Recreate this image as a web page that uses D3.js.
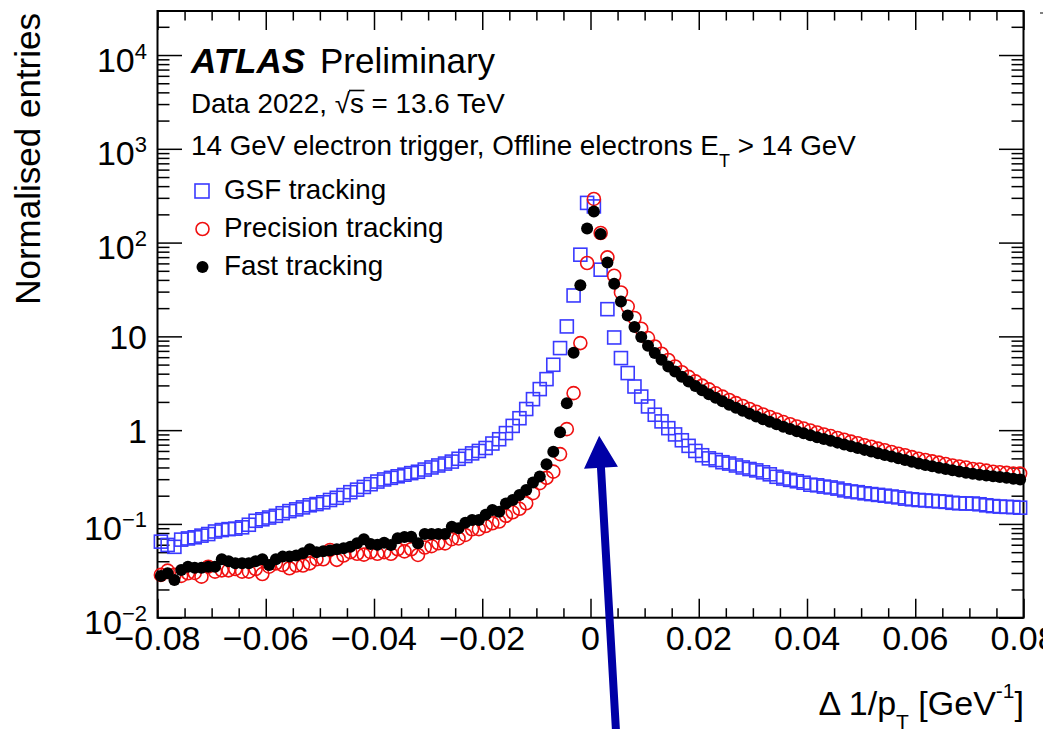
<!DOCTYPE html>
<html>
<head>
<meta charset="utf-8">
<script src="https://cdn.jsdelivr.net/npm/d3@7"></script>
<style>
  html, body { margin: 0; padding: 0; background: #fff; overflow: hidden; }
  svg { display: block; font-family: "Liberation Sans", Arial, Helvetica, sans-serif; }
</style>
</head>
<body>
<svg id="chart" width="1043" height="729"></svg>
<script>
// Histogram binning: 128 bins of width 0.00125 GeV^-1 from -0.08 to 0.08
const binLow = -0.08;
const binWidth = 0.00125;

// Normalised entries per bin
const gsf = [
  0.0647,0.0597,0.057,0.068,0.070,0.072,0.075,0.078,0.083,0.086,
  0.088,0.089,0.092,0.098,0.108,0.112,0.117,0.122,0.130,0.137,
  0.143,0.150,0.158,0.163,0.170,0.180,0.190,0.203,0.218,0.232,
  0.248,0.265,0.283,0.298,0.310,0.322,0.335,0.348,0.360,0.380,
  0.400,0.420,0.440,0.462,0.495,0.530,0.565,0.600,0.645,0.720,
  0.800,0.930,1.11,1.34,1.68,2.14,2.74,3.5,4.98,7.5,
  12.76,27.3,74.3,265,243,51.4,19.5,9.73,5.87,4.06,
  2.92,2.28,1.79,1.46,1.24,1.05,0.90,0.78,0.68,0.60,
  0.54,0.50,0.48,0.455,0.44,0.42,0.40,0.385,0.372,0.355,
  0.338,0.318,0.305,0.295,0.285,0.275,0.262,0.258,0.250,0.245,
  0.238,0.228,0.222,0.218,0.212,0.208,0.204,0.200,0.196,0.192,
  0.186,0.183,0.180,0.178,0.176,0.174,0.172,0.168,0.166,0.165,
  0.165,0.162,0.158,0.155,0.153,0.152,0.151,0.149
];
const precision = [
  0.0286,0.0318,0.0286,0.0279,0.0298,0.030,0.0274,0.035,0.031,0.032,
  0.032,0.033,0.031,0.031,0.033,0.0292,0.035,0.038,0.0365,0.0337,
  0.036,0.036,0.038,0.042,0.042,0.0528,0.0414,0.046,0.050,0.048,
  0.047,0.050,0.048,0.050,0.048,0.0537,0.051,0.0537,0.0467,0.056,
  0.058,0.0622,0.062,0.0687,0.070,0.0763,0.0877,0.088,0.095,0.1016,
  0.106,0.122,0.133,0.145,0.166,0.213,0.272,0.31,0.361,0.555,
  1.025,2.48,8.48,60.6,292,126.6,69.5,44.3,29.4,20.8,
  15.7,12.05,9.59,7.8,6.52,5.6,4.77,4.15,3.70,3.31,
  2.98,2.72,2.47,2.28,2.10,1.94,1.81,1.68,1.57,1.47,
  1.38,1.30,1.22,1.155,1.095,1.04,0.99,0.945,0.90,0.865,
  0.825,0.79,0.755,0.725,0.69,0.665,0.635,0.61,0.585,0.56,
  0.54,0.515,0.495,0.48,0.465,0.45,0.435,0.42,0.41,0.40,
  0.385,0.38,0.37,0.36,0.355,0.35,0.345,0.345
];
const fast = [
  0.0279,0.0298,0.0253,0.0323,0.035,0.034,0.034,0.035,0.035,0.042,
  0.040,0.038,0.038,0.038,0.040,0.042,0.0365,0.042,0.0448,0.045,
  0.046,0.0486,0.0537,0.050,0.051,0.052,0.0537,0.055,0.057,0.0622,
  0.0687,0.061,0.060,0.063,0.0597,0.0703,0.0726,0.073,0.0622,0.078,
  0.078,0.078,0.078,0.0935,0.090,0.103,0.110,0.110,0.125,0.141,
  0.135,0.165,0.18,0.204,0.23,0.276,0.32,0.434,0.59,0.952,
  1.94,6.7,35,141,215,123.5,61.5,36.4,23.6,16.7,
  12.6,9.83,7.94,6.63,5.63,4.77,4.22,3.715,3.30,2.955,
  2.666,2.42,2.21,2.03,1.87,1.734,1.61,1.50,1.40,1.31,
  1.23,1.156,1.09,1.03,0.976,0.927,0.882,0.842,0.804,0.769,
  0.736,0.704,0.673,0.644,0.616,0.591,0.567,0.544,0.522,0.50,
  0.48,0.46,0.441,0.426,0.412,0.398,0.385,0.373,0.362,0.352,
  0.342,0.335,0.329,0.322,0.316,0.31,0.304,0.298
];

// Axis ticks and labels
const xMajorTicks = [-0.08, -0.06, -0.04, -0.02, 0, 0.02, 0.04, 0.06, 0.08];
const xTickLabels = ["\u22120.08", "\u22120.06", "\u22120.04", "\u22120.02", "0", "0.02", "0.04", "0.06", "0.08"];
const yMajorTicks = [0.01, 0.1, 1, 10, 100, 1000, 10000];
const yTickBase = ["10", "10", "1", "10", "10", "10", "10"];
const yTickExp = ["\u22122", "\u22121", "", "", "2", "3", "4"];

// Legend entries and annotation
const legendNames = ["GSF tracking", "Precision tracking", "Fast tracking"];
const arrowTip = [0.0016, 0.87];
const arrowTail = [0.0048, 0.0005];

const svg = d3.select("#chart");
const L = 157.5, R = 1023.5, T = 11, B = 617.7;
const yMax = 29480;

const x = d3.scaleLinear().domain([-0.08, 0.08]).range([L, R]);
const y = d3.scaleLog().domain([0.01, yMax]).range([B, T]);

const centre = i => binLow + (i + 0.5) * binWidth;

// ---- ticks on all four sides (drawn inward) ----
const xMinorTicks = x.ticks(32).filter(v => !xMajorTicks.some(m => Math.abs(m - v) < 1e-9));
const yMinorTicks = [];
yMajorTicks.forEach(d => { for (let k = 2; k <= 9; k++) { const v = d * k; if (v < yMax) yMinorTicks.push(v); } });

function styleAxis(g) {
  g.select(".domain").remove();
  g.selectAll(".tick line").attr("stroke", "#000").attr("stroke-width", 1.5);
  g.selectAll(".tick text").remove();
}
const ax = svg.append("g").attr("class", "axes");
ax.append("g").attr("transform", `translate(0,${B})`)
  .call(d3.axisBottom(x).tickValues(xMajorTicks).tickSize(-19).tickFormat("")).call(styleAxis);
ax.append("g").attr("transform", `translate(0,${B})`)
  .call(d3.axisBottom(x).tickValues(xMinorTicks).tickSize(-9.5).tickFormat("")).call(styleAxis);
ax.append("g").attr("transform", `translate(0,${T})`)
  .call(d3.axisTop(x).tickValues(xMajorTicks).tickSize(-19).tickFormat("")).call(styleAxis);
ax.append("g").attr("transform", `translate(0,${T})`)
  .call(d3.axisTop(x).tickValues(xMinorTicks).tickSize(-9.5).tickFormat("")).call(styleAxis);
ax.append("g").attr("transform", `translate(${L},0)`)
  .call(d3.axisLeft(y).tickValues(yMajorTicks).tickSize(-24.5).tickFormat("")).call(styleAxis);
ax.append("g").attr("transform", `translate(${L},0)`)
  .call(d3.axisLeft(y).tickValues(yMinorTicks).tickSize(-12).tickFormat("")).call(styleAxis);
ax.append("g").attr("transform", `translate(${R},0)`)
  .call(d3.axisRight(y).tickValues(yMajorTicks).tickSize(-24.5).tickFormat("")).call(styleAxis);
ax.append("g").attr("transform", `translate(${R},0)`)
  .call(d3.axisRight(y).tickValues(yMinorTicks).tickSize(-12).tickFormat("")).call(styleAxis);

// frame
svg.append("rect").attr("x", L).attr("y", T).attr("width", R - L).attr("height", B - T)
  .attr("fill", "none").attr("stroke", "#000").attr("stroke-width", 2);

// x tick labels
svg.append("g").selectAll("text").data(xMajorTicks).join("text")
  .attr("x", d => x(d)).attr("y", 650).attr("text-anchor", "middle")
  .attr("font-size", 34).attr("fill", "#000")
  .text((d, i) => xTickLabels[i]);

// y tick labels (powers of ten)
const yl = svg.append("g").selectAll("text").data(yMajorTicks).join("text")
  .attr("x", 147).attr("text-anchor", "end").attr("font-size", 34).attr("fill", "#000")
  .attr("y", (d, i) => y(d) + (yTickExp[i] ? 16.5 : 12.5));
yl.append("tspan").text((d, i) => yTickBase[i]);
yl.filter((d, i) => yTickExp[i] !== "").append("tspan")
  .attr("font-size", 22).attr("dy", -13)
  .text(d => yTickExp[yMajorTicks.indexOf(d)]);

// axis titles
svg.append("text").attr("transform", `translate(40,13) rotate(-90)`)
  .attr("text-anchor", "end").attr("font-size", 35).attr("fill", "#000")
  .text("Normalised entries");

const xt = svg.append("text").attr("x", 1024).attr("y", 715).attr("text-anchor", "end")
  .attr("font-size", 34).attr("fill", "#000");
xt.append("tspan").text("\u0394 1/p");
xt.append("tspan").attr("font-size", 21).attr("dy", 14).text("T");
xt.append("tspan").attr("dy", -14).text(" [GeV");
xt.append("tspan").attr("font-size", 21).attr("dy", -17).text("-1");
xt.append("tspan").attr("dy", 17).text("]");

// ---- data markers ----
const plot = svg.append("g");
const idx = d3.range(gsf.length);
const sq = 13;
plot.append("g").selectAll("rect").data(idx).join("rect")
  .attr("x", i => x(centre(i)) - sq / 2).attr("y", i => y(gsf[i]) - sq / 2)
  .attr("width", sq).attr("height", sq)
  .attr("fill", "none").attr("stroke", "#3a3aff").attr("stroke-width", 1.6);
plot.append("g").selectAll("circle").data(idx).join("circle")
  .attr("cx", i => x(centre(i))).attr("cy", i => y(precision[i])).attr("r", 6.5)
  .attr("fill", "none").attr("stroke", "#f01010").attr("stroke-width", 1.6);
plot.append("g").selectAll("circle").data(idx).join("circle")
  .attr("cx", i => x(centre(i))).attr("cy", i => y(fast[i])).attr("r", 6)
  .attr("fill", "#000");

// ---- labels inside the frame ----
svg.append("text").attr("x", 191).attr("y", 73).attr("font-size", 35)
  .attr("font-weight", "bold").attr("font-style", "italic").attr("fill", "#000").text("ATLAS");
svg.append("text").attr("x", 320).attr("y", 73).attr("font-size", 35).attr("fill", "#000").text("Preliminary");

const dataLine = svg.append("text").attr("x", 191).attr("y", 113).attr("font-size", 27.8).attr("fill", "#000")
  .text("Data 2022, \u221As = 13.6 TeV");
{
  const node = dataLine.node();
  const sIdx = "Data 2022, \u221As".length - 1;
  const x0 = node.getStartPositionOfChar(sIdx).x;
  const x1 = node.getEndPositionOfChar(sIdx).x;
  svg.append("line").attr("x1", x0 - 1).attr("x2", x1 + 0.5).attr("y1", 90.5).attr("y2", 90.5)
    .attr("stroke", "#000").attr("stroke-width", 1.6);
}

const trig = svg.append("text").attr("x", 191).attr("y", 155).attr("font-size", 27.8).attr("fill", "#000");
trig.append("tspan").text("14 GeV electron trigger, Offline electrons E");
trig.append("tspan").attr("font-size", 18).attr("dy", 12).text("T");
trig.append("tspan").attr("dy", -12).text(" > 14 GeV");

// legend
const legY = [191, 229, 267];
const lg = svg.append("g");
lg.append("rect").attr("x", 202 - 7).attr("y", legY[0] - 7).attr("width", 14).attr("height", 14)
  .attr("fill", "none").attr("stroke", "#3a3aff").attr("stroke-width", 1.6);
lg.append("circle").attr("cx", 202.5).attr("cy", legY[1]).attr("r", 6.5)
  .attr("fill", "none").attr("stroke", "#f01010").attr("stroke-width", 1.6);
lg.append("circle").attr("cx", 202.5).attr("cy", legY[2]).attr("r", 6).attr("fill", "#000");
lg.selectAll("text").data(legendNames).join("text")
  .attr("x", 224).attr("y", (d, i) => legY[i] + 8).attr("font-size", 27.8).attr("fill", "#000")
  .text(d => d);

// ---- annotation arrow ----
{
  const tx = x(arrowTail[0]), ty = y(arrowTail[1]);
  const hx = x(arrowTip[0]), hy = y(arrowTip[1]);
  const len = Math.hypot(hx - tx, hy - ty);
  const ux = (hx - tx) / len, uy = (hy - ty) / len;
  const nx = -uy, ny = ux;
  const headLen = 32, headHalf = 17, shaftHalf = 4;
  const bx = hx - ux * headLen, by = hy - uy * headLen;
  const pts = [
    [tx + nx * shaftHalf, ty + ny * shaftHalf],
    [bx + nx * shaftHalf, by + ny * shaftHalf],
    [bx + nx * headHalf, by + ny * headHalf],
    [hx, hy],
    [bx - nx * headHalf, by - ny * headHalf],
    [bx - nx * shaftHalf, by - ny * shaftHalf],
    [tx - nx * shaftHalf, ty - ny * shaftHalf]
  ];
  svg.append("polygon").attr("points", pts.map(p => p.join(",")).join(" "))
    .attr("fill", "#0000a6");
}

// small mark at the top-right corner
svg.append("line").attr("x1", 1040).attr("x2", 1043).attr("y1", 13).attr("y2", 13)
  .attr("stroke", "#555").attr("stroke-width", 1.5);
</script>
</body>
</html>
